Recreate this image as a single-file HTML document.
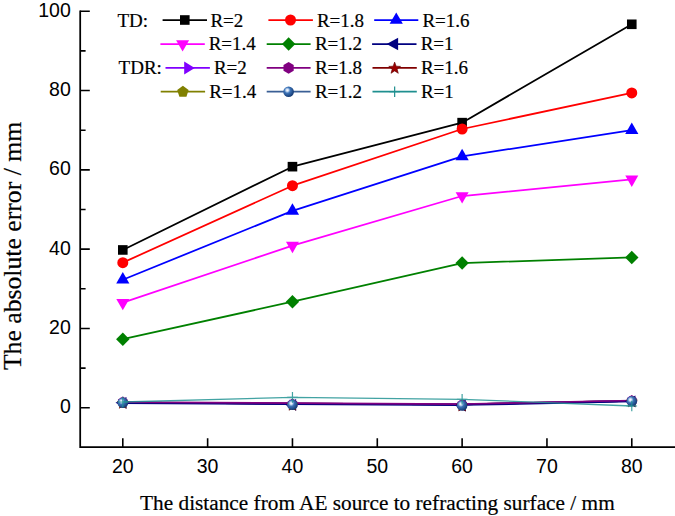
<!DOCTYPE html>
<html><head><meta charset="utf-8"><style>
html,body{margin:0;padding:0;background:#fff;}
body{width:675px;height:516px;overflow:hidden;}
svg{display:block;}
text{font-family:"Liberation Serif",serif;fill:#000;stroke:#000;stroke-width:0.2px;}
.s{font-family:"Liberation Sans",sans-serif;stroke:none;}
</style></head><body>
<svg width="675" height="516" viewBox="0 0 675 516">
<defs>
<radialGradient id="sph" cx="0.38" cy="0.36" r="0.62">
<stop offset="0" stop-color="#ffffff"/>
<stop offset="0.18" stop-color="#cfe0f5"/>
<stop offset="0.45" stop-color="#3d74b8"/>
<stop offset="1" stop-color="#173e78"/>
</radialGradient>
</defs>

<path d="M80.2 10.4V447.1H676" fill="none" stroke="#000" stroke-width="1.75"/>
<path d="M80.2 407.80H89.8 M80.2 328.48H89.8 M80.2 249.16H89.8 M80.2 169.84H89.8 M80.2 90.52H89.8 M80.2 11.20H89.8 M80.2 368.14H85.6 M80.2 288.82H85.6 M80.2 209.50H85.6 M80.2 130.18H85.6 M80.2 50.86H85.6 M122.80 447.1V438.2 M207.63 447.1V438.2 M292.46 447.1V438.2 M377.29 447.1V438.2 M462.12 447.1V438.2 M546.95 447.1V438.2 M631.78 447.1V438.2" fill="none" stroke="#000" stroke-width="1.6"/>
<text class="s" x="70.8" y="413.40" font-size="19.5" text-anchor="end">0</text>
<text class="s" x="70.8" y="334.08" font-size="19.5" text-anchor="end">20</text>
<text class="s" x="70.8" y="254.76" font-size="19.5" text-anchor="end">40</text>
<text class="s" x="70.8" y="175.44" font-size="19.5" text-anchor="end">60</text>
<text class="s" x="70.8" y="96.12" font-size="19.5" text-anchor="end">80</text>
<text class="s" x="70.8" y="16.80" font-size="19.5" text-anchor="end">100</text>
<text class="s" x="122.80" y="472.6" font-size="19.5" text-anchor="middle">20</text>
<text class="s" x="207.63" y="472.6" font-size="19.5" text-anchor="middle">30</text>
<text class="s" x="292.46" y="472.6" font-size="19.5" text-anchor="middle">40</text>
<text class="s" x="377.29" y="472.6" font-size="19.5" text-anchor="middle">50</text>
<text class="s" x="462.12" y="472.6" font-size="19.5" text-anchor="middle">60</text>
<text class="s" x="546.95" y="472.6" font-size="19.5" text-anchor="middle">70</text>
<text class="s" x="631.78" y="472.6" font-size="19.5" text-anchor="middle">80</text>
<text x="140.1" y="509.7" font-size="21.3" textLength="474.6" lengthAdjust="spacingAndGlyphs">The distance from AE source to refracting surface / mm</text>
<text transform="translate(21.3 370.1) rotate(-90)" x="0" y="0" font-size="25.8" textLength="248.3" lengthAdjust="spacingAndGlyphs">The absolute error / mm</text>
<path d="M122.80 249.95 L292.46 166.67 L462.12 122.64 L631.78 24.29" fill="none" stroke="#000000" stroke-width="1.75" stroke-linejoin="round"/>
<path d="M122.80 262.64 L292.46 185.70 L462.12 128.99 L631.78 92.90" fill="none" stroke="#ff0000" stroke-width="1.75" stroke-linejoin="round"/>
<path d="M122.80 279.70 L292.46 210.89 L462.12 156.36 L631.78 130.18" fill="none" stroke="#0000ff" stroke-width="1.75" stroke-linejoin="round"/>
<path d="M122.80 302.70 L292.46 245.59 L462.12 196.02 L631.78 179.36" fill="none" stroke="#ff00ff" stroke-width="1.75" stroke-linejoin="round"/>
<path d="M122.80 339.19 L292.46 301.71 L462.12 263.04 L631.78 257.49" fill="none" stroke="#008000" stroke-width="1.75" stroke-linejoin="round"/>
<rect x="118.00" y="245.15" width="9.60" height="9.60" fill="#000000"/>
<rect x="287.66" y="161.87" width="9.60" height="9.60" fill="#000000"/>
<rect x="457.32" y="117.84" width="9.60" height="9.60" fill="#000000"/>
<rect x="626.98" y="19.49" width="9.60" height="9.60" fill="#000000"/>
<circle cx="122.80" cy="262.64" r="5.50" fill="#ff0000"/>
<circle cx="292.46" cy="185.70" r="5.50" fill="#ff0000"/>
<circle cx="462.12" cy="128.99" r="5.50" fill="#ff0000"/>
<circle cx="631.78" cy="92.90" r="5.50" fill="#ff0000"/>
<path d="M122.80 272.10L129.40 283.50L116.20 283.50Z" fill="#0000ff"/>
<path d="M292.46 203.29L299.06 214.69L285.86 214.69Z" fill="#0000ff"/>
<path d="M462.12 148.76L468.72 160.16L455.52 160.16Z" fill="#0000ff"/>
<path d="M631.78 122.58L638.38 133.98L625.18 133.98Z" fill="#0000ff"/>
<path d="M116.30 298.90L129.30 298.90L122.80 310.30Z" fill="#ff00ff"/>
<path d="M285.96 241.79L298.96 241.79L292.46 253.19Z" fill="#ff00ff"/>
<path d="M455.62 192.22L468.62 192.22L462.12 203.62Z" fill="#ff00ff"/>
<path d="M625.28 175.56L638.28 175.56L631.78 186.96Z" fill="#ff00ff"/>
<path d="M122.80 332.49L129.50 339.19L122.80 345.89L116.10 339.19Z" fill="#008000"/>
<path d="M292.46 295.01L299.16 301.71L292.46 308.41L285.76 301.71Z" fill="#008000"/>
<path d="M462.12 256.34L468.82 263.04L462.12 269.74L455.42 263.04Z" fill="#008000"/>
<path d="M631.78 250.79L638.48 257.49L631.78 264.19L625.08 257.49Z" fill="#008000"/>
<path d="M122.80 402.50 L292.46 403.60 L462.12 404.40 L631.78 400.90" fill="none" stroke="#808000" stroke-width="1.75" stroke-linejoin="round"/>
<path d="M122.80 402.50 L292.46 403.60 L462.12 404.40 L631.78 400.90" fill="none" stroke="#800000" stroke-width="1.75" stroke-linejoin="round"/>
<path d="M122.80 402.50 L292.46 403.60 L462.12 404.40 L631.78 400.90" fill="none" stroke="#8000ff" stroke-width="1.75" stroke-linejoin="round"/>
<path d="M122.80 402.50 L292.46 403.60 L462.12 404.40 L631.78 400.90" fill="none" stroke="#3a5f95" stroke-width="1.75" stroke-linejoin="round"/>
<path d="M122.80 403.10 L292.46 404.20 L462.12 405.00 L631.78 401.50" fill="none" stroke="#000080" stroke-width="1.75" stroke-linejoin="round"/>
<path d="M122.80 402.10 L292.46 403.20 L462.12 404.00 L631.78 400.50" fill="none" stroke="#800080" stroke-width="1.75" stroke-linejoin="round"/>
<path d="M115.52 402.80L126.44 396.91L126.44 408.69Z" fill="#000080"/>
<path d="M128.45 402.80L119.97 397.60L119.97 408.00Z" fill="#8000ff"/>
<polygon points="122.80,396.59 127.65,399.40 127.65,405.00 122.80,407.81 117.95,405.00 117.95,399.40" fill="#800080"/>
<polygon points="122.80,397.61 124.25,401.50 128.40,401.68 125.15,404.26 126.26,408.27 122.80,405.97 119.34,408.27 120.45,404.26 117.20,401.68 121.35,401.50" fill="#9a0000" stroke="#600000" stroke-width="0.6"/>
<polygon points="122.80,397.50 127.94,401.23 125.97,407.27 119.63,407.27 117.66,401.23" fill="#808000"/>
<path d="M285.18 404.80L296.10 398.91L296.10 410.69Z" fill="#000080"/>
<path d="M298.11 404.80L289.63 399.60L289.63 410.00Z" fill="#8000ff"/>
<polygon points="292.46,398.59 297.31,401.40 297.31,407.00 292.46,409.81 287.61,407.00 287.61,401.40" fill="#800080"/>
<polygon points="292.46,399.61 293.91,403.50 298.06,403.68 294.81,406.26 295.92,410.27 292.46,407.97 289.00,410.27 290.11,406.26 286.86,403.68 291.01,403.50" fill="#9a0000" stroke="#600000" stroke-width="0.6"/>
<polygon points="292.46,399.50 297.60,403.23 295.63,409.27 289.29,409.27 287.32,403.23" fill="#808000"/>
<path d="M454.84 405.50L465.76 399.61L465.76 411.39Z" fill="#000080"/>
<path d="M467.77 405.50L459.29 400.30L459.29 410.70Z" fill="#8000ff"/>
<polygon points="462.12,399.29 466.97,402.10 466.97,407.70 462.12,410.50 457.27,407.70 457.27,402.10" fill="#800080"/>
<polygon points="462.12,400.31 463.57,404.20 467.72,404.38 464.47,406.96 465.58,410.97 462.12,408.67 458.66,410.97 459.77,406.96 456.52,404.38 460.67,404.20" fill="#9a0000" stroke="#600000" stroke-width="0.6"/>
<polygon points="462.12,400.20 467.26,403.93 465.29,409.97 458.95,409.97 456.98,403.93" fill="#808000"/>
<path d="M624.50 401.30L635.42 395.41L635.42 407.19Z" fill="#000080"/>
<path d="M637.43 401.30L628.95 396.10L628.95 406.50Z" fill="#8000ff"/>
<polygon points="631.78,395.09 636.63,397.90 636.63,403.50 631.78,406.31 626.93,403.50 626.93,397.90" fill="#800080"/>
<polygon points="631.78,396.11 633.23,400.00 637.38,400.18 634.13,402.76 635.24,406.77 631.78,404.47 628.32,406.77 629.43,402.76 626.18,400.18 630.33,400.00" fill="#9a0000" stroke="#600000" stroke-width="0.6"/>
<polygon points="631.78,396.00 636.92,399.73 634.95,405.77 628.61,405.77 626.64,399.73" fill="#808000"/>
<circle cx="122.80" cy="402.80" r="5.30" fill="url(#sph)"/>
<circle cx="292.46" cy="404.80" r="5.30" fill="url(#sph)"/>
<circle cx="462.12" cy="405.50" r="5.30" fill="url(#sph)"/>
<circle cx="631.78" cy="401.30" r="5.30" fill="url(#sph)"/>
<g opacity="0.85">
<path d="M122.80 402.00 L292.46 397.40 L462.12 399.30 L631.78 406.00" fill="none" stroke="#229494" stroke-width="1.3" stroke-linejoin="round"/>
<path d="M117.50 402.00H128.10M122.80 396.70V407.30" stroke="#229494" stroke-width="1.2" fill="none"/>
<path d="M287.16 397.40H297.76M292.46 392.10V402.70" stroke="#229494" stroke-width="1.2" fill="none"/>
<path d="M456.82 399.30H467.42M462.12 394.00V404.60" stroke="#229494" stroke-width="1.2" fill="none"/>
<path d="M626.48 406.00H637.08M631.78 400.70V411.30" stroke="#229494" stroke-width="1.2" fill="none"/>
</g>
<text x="117.4" y="26.6" font-size="19.0">TD:</text>
<text x="118.6" y="73.8" font-size="19.0">TDR:</text>
<path d="M162.6 20.0H207.0" stroke="#000000" stroke-width="1.75" fill="none"/>
<rect x="180.00" y="15.20" width="9.60" height="9.60" fill="#000000"/>
<text x="210.40" y="26.6" font-size="19.0">R=2</text>
<path d="M268.4 20.0H312.9" stroke="#ff0000" stroke-width="1.75" fill="none"/>
<circle cx="290.50" cy="20.00" r="5.50" fill="#ff0000"/>
<text x="316.90" y="26.6" font-size="19.0">R=1.8</text>
<path d="M374.2 20.0H418.3" stroke="#0000ff" stroke-width="1.75" fill="none"/>
<path d="M396.25 12.40L402.85 23.80L389.65 23.80Z" fill="#0000ff"/>
<text x="422.40" y="26.6" font-size="19.0">R=1.6</text>
<path d="M160.4 44.0H204.8" stroke="#ff00ff" stroke-width="1.75" fill="none"/>
<path d="M176.10 40.20L189.10 40.20L182.60 51.60Z" fill="#ff00ff"/>
<text x="208.70" y="50.2" font-size="19.0">R=1.4</text>
<path d="M266.7 44.0H310.6" stroke="#008000" stroke-width="1.75" fill="none"/>
<path d="M288.65 37.30L295.35 44.00L288.65 50.70L281.95 44.00Z" fill="#008000"/>
<text x="314.90" y="50.2" font-size="19.0">R=1.2</text>
<path d="M372.1 44.0H416.5" stroke="#000080" stroke-width="1.75" fill="none"/>
<path d="M386.63 44.00L398.13 37.80L398.13 50.20Z" fill="#000080"/>
<text x="420.70" y="50.2" font-size="19.0">R=1</text>
<path d="M165.5 67.9H209.9" stroke="#8000ff" stroke-width="1.75" fill="none"/>
<path d="M194.77 67.90L184.17 61.40L184.17 74.40Z" fill="#8000ff"/>
<text x="213.90" y="73.8" font-size="19.0">R=2</text>
<path d="M266.7 67.9H310.6" stroke="#800080" stroke-width="1.75" fill="none"/>
<polygon points="288.60,62.00 293.71,64.95 293.71,70.85 288.60,73.80 283.49,70.85 283.49,64.95" fill="#800080"/>
<text x="314.90" y="73.8" font-size="19.0">R=1.8</text>
<path d="M372.5 67.9H416.8" stroke="#800000" stroke-width="1.75" fill="none"/>
<polygon points="394.65,62.10 396.18,66.20 400.55,66.38 397.12,69.10 398.29,73.32 394.65,70.90 391.01,73.32 392.18,69.10 388.75,66.38 393.12,66.20" fill="#9a0000" stroke="#600000" stroke-width="0.6"/>
<text x="420.90" y="73.8" font-size="19.0">R=1.6</text>
<path d="M160.7 91.7H205.1" stroke="#808000" stroke-width="1.75" fill="none"/>
<polygon points="182.90,85.80 188.61,89.95 186.43,96.65 179.37,96.65 177.19,89.95" fill="#808000"/>
<text x="209.20" y="98.2" font-size="19.0">R=1.4</text>
<path d="M266.7 91.7H310.6" stroke="#3a5f95" stroke-width="1.75" fill="none"/>
<circle cx="288.60" cy="91.70" r="5.30" fill="url(#sph)"/>
<text x="314.90" y="98.2" font-size="19.0">R=1.2</text>
<path d="M372.5 91.7H416.8" stroke="#1f8f8f" stroke-width="1.75" fill="none"/>
<path d="M389.35 91.70H399.95M394.65 86.40V97.00" stroke="#1f8f8f" stroke-width="1.2" fill="none"/>
<text x="420.90" y="98.2" font-size="19.0">R=1</text>
</svg></body></html>
